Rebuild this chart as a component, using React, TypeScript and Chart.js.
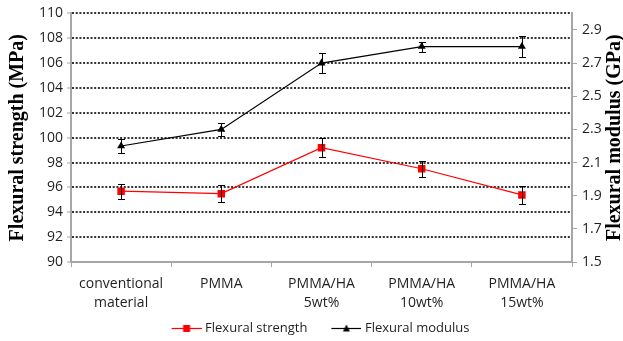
import { useEffect, useRef } from 'react';
import { Chart, registerables } from 'chart.js';

Chart.register(...registerables);

const categories: string[][] = [
  ['conventional', 'material'],
  ['PMMA'],
  ['PMMA/HA', '5wt%'],
  ['PMMA/HA', '10wt%'],
  ['PMMA/HA', '15wt%'],
];
const strengthLabel = 'Flexural strength';
const modulusLabel = 'Flexural modulus';
const strengthValues = [95.7, 95.5, 99.2, 97.5, 95.4];
const strengthErrors = [0.6, 0.7, 0.75, 0.65, 0.7];
const modulusValues = [2.2, 2.3, 2.7, 2.8, 2.8];
const modulusErrors = [0.045, 0.04, 0.06, 0.03, 0.065];
const leftTicks = [90, 92, 94, 96, 98, 100, 102, 104, 106, 108, 110];
const rightTicks = [1.5, 1.7, 1.9, 2.1, 2.3, 2.5, 2.7, 2.9];
const leftTitle = 'Flexural strength (MPa)';
const rightTitle = 'Flexural modulus (GPa)';

const FONT = 'Open Sans';
const TEXT = '#1f1f1f';
const AXIS = '#a6a6a6';
const GRID = '#333333';

function makeIcon(color: string, kind: 'rect' | 'tri') {
  const c = document.createElement('canvas');
  c.width = 51;
  c.height = 11;
  const g = c.getContext('2d')!;
  g.strokeStyle = color;
  g.lineWidth = 1.2;
  g.beginPath();
  g.moveTo(21, 5.5);
  g.lineTo(51, 5.5);
  g.stroke();
  g.fillStyle = color;
  if (kind === 'rect') {
    g.fillRect(32.5, 2, 7, 7);
  } else {
    g.beginPath();
    g.moveTo(36, 1.5);
    g.lineTo(39.5, 8.5);
    g.lineTo(32.5, 8.5);
    g.closePath();
    g.fill();
  }
  return c;
}

const errorBarPlugin = {
  id: 'errorBars',
  afterDatasetsDraw(chart: any) {
    const ctx = chart.ctx;
    chart.data.datasets.forEach((ds: any, di: number) => {
      const meta = chart.getDatasetMeta(di);
      const yScale = chart.scales[ds.yAxisID];
      meta.data.forEach((pt: any, i: number) => {
        const v = ds.data[i];
        const e = ds.errors[i];
        const x = Math.round(pt.x) + 0.5;
        const y1 = Math.round(yScale.getPixelForValue(v + e)) + 0.5;
        const y2 = Math.round(yScale.getPixelForValue(v - e)) + 0.5;
        ctx.save();
        ctx.strokeStyle = '#000';
        ctx.lineWidth = 1;
        ctx.beginPath();
        ctx.moveTo(x, y1);
        ctx.lineTo(x, y2);
        ctx.moveTo(x - 3.5, y1);
        ctx.lineTo(x + 3.5, y1);
        ctx.moveTo(x - 3.5, y2);
        ctx.lineTo(x + 3.5, y2);
        ctx.stroke();
        ctx.restore();
      });
    });
  },
};

const rightTitlePlugin = {
  id: 'rightTitle',
  afterDraw(chart: any) {
    const s = chart.scales.y1;
    const ctx = chart.ctx;
    ctx.save();
    ctx.translate(s.right - 8, (s.top + s.bottom) / 2);
    ctx.rotate(-Math.PI / 2);
    ctx.font = 'bold 20px "Liberation Serif"';
    ctx.fillStyle = '#000';
    ctx.textAlign = 'center';
    ctx.textBaseline = 'middle';
    ctx.fillText(rightTitle, 0, 0);
    ctx.restore();
  },
};

export default function App() {
  const ref = useRef<HTMLCanvasElement>(null);

  useEffect(() => {
    const icons = [makeIcon('#ff0000', 'rect'), makeIcon('#000000', 'tri')];
    const chart = new Chart(ref.current!, {
      type: 'line',
      data: {
        labels: categories,
        datasets: [
          {
            label: strengthLabel,
            data: strengthValues,
            errors: strengthErrors,
            yAxisID: 'y',
            borderColor: '#ff0000',
            backgroundColor: '#ff0000',
            borderWidth: 1.2,
            pointStyle: 'rect',
            pointRadius: 5.3,
            pointBorderWidth: 0,
            tension: 0,
          } as any,
          {
            label: modulusLabel,
            data: modulusValues,
            errors: modulusErrors,
            yAxisID: 'y1',
            borderColor: '#000000',
            backgroundColor: '#000000',
            borderWidth: 1.2,
            pointStyle: 'triangle',
            pointRadius: 4.6,
            pointBorderWidth: 0,
            tension: 0,
          } as any,
        ],
      },
      options: {
        responsive: false,
        animation: false,
        layout: { padding: { top: 13, bottom: -4, left: 0, right: 0 } },
        plugins: {
          tooltip: { enabled: false },
          legend: {
            position: 'bottom',
            labels: {
              usePointStyle: true,
              pointStyleWidth: 45,
              padding: 6,
              color: TEXT,
              font: { family: FONT, size: 13 },
              generateLabels: (c: any) =>
                c.data.datasets.map((ds: any, i: number) => ({
                  text: ds.label,
                  pointStyle: icons[i],
                  fillStyle: ds.borderColor,
                  strokeStyle: ds.borderColor,
                  lineWidth: 0,
                  hidden: false,
                  datasetIndex: i,
                  fontColor: TEXT,
                })),
            },
          },
        },
        scales: {
          x: {
            type: 'category',
            offset: true,
            grid: {
              offset: true,
              drawOnChartArea: false,
              drawTicks: true,
              tickLength: 5,
              tickColor: AXIS,
              tickWidth: 1,
              color: AXIS,
            },
            border: { color: AXIS, width: 2 },
            ticks: {
              color: TEXT,
              font: { family: FONT, size: 14, lineHeight: 1.36 },
              maxRotation: 0,
              autoSkip: false,
              padding: 7,
            },
            afterFit: (s: any) => {
              s.height = 54;
            },
          },
          y: {
            type: 'linear',
            position: 'left',
            min: 90,
            max: 110,
            afterBuildTicks: (s: any) => {
              s.ticks = leftTicks.map((v) => ({ value: v }));
            },
            afterFit: (s: any) => {
              s.width = 71;
            },
            grid: {
              color: (c: any) => (c.tick && c.tick.value === 90 ? 'rgba(0,0,0,0)' : GRID),
              lineWidth: 2,
              tickColor: AXIS,
              tickLength: 4,
              tickWidth: 1,
              tickBorderDash: [],
            },
            border: { color: AXIS, width: 2, dash: [2, 1.7] },
            ticks: {
              color: TEXT,
              font: { family: FONT, size: 14 },
              padding: 4,
              callback: (v: any) => String(v),
            },
            title: {
              display: true,
              text: leftTitle,
              color: '#000',
              font: { family: 'Liberation Serif', size: 20, weight: 'bold' },
              padding: { top: 5.5, bottom: 0 },
            },
          },
          y1: {
            type: 'linear',
            position: 'right',
            min: 1.5,
            max: 3.0,
            afterBuildTicks: (s: any) => {
              s.ticks = rightTicks.map((v) => ({ value: v }));
            },
            afterFit: (s: any) => {
              s.width = 51;
            },
            grid: {
              drawOnChartArea: false,
              tickColor: AXIS,
              tickLength: 5,
              tickWidth: 1,
            },
            border: { color: AXIS, width: 2 },
            ticks: {
              color: TEXT,
              font: { family: FONT, size: 14 },
              padding: 5,
              callback: (v: any) => Number(v).toFixed(1),
            },
          },
        },
      } as any,
      plugins: [errorBarPlugin, rightTitlePlugin],
    });
    return () => chart.destroy();
  }, []);

  return (
    <div style={{ position: 'fixed', left: 0, top: 0, width: 623, height: 341, background: '#fff' }}>
      <canvas ref={ref} width={623} height={341} />
    </div>
  );
}
